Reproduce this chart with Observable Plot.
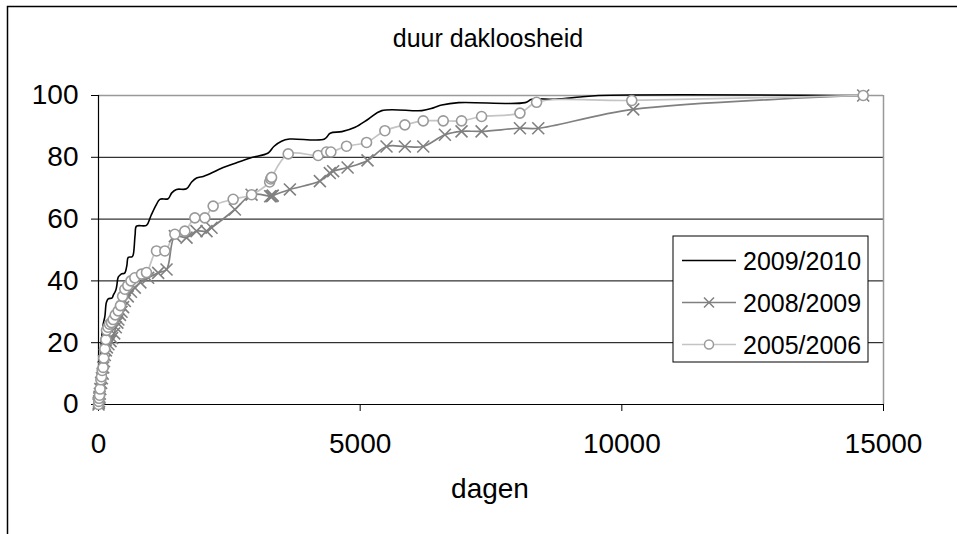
<!DOCTYPE html>
<html>
<head>
<meta charset="utf-8">
<script src="https://cdn.jsdelivr.net/npm/d3@7"></script>
<script src="https://cdn.jsdelivr.net/npm/@observablehq/plot@0.6"></script>
<style>
  html, body { margin: 0; padding: 0; background: white; }
  #chart { width: 957px; height: 534px; overflow: hidden; }
</style>
</head>
<body>
<div id="chart"></div>
<script>
// ---- data ----
const chartTitle = "duur dakloosheid";
const xLabel = "dagen";
const seriesNames = ["2009/2010", "2008/2009", "2005/2006"];
const xTicks = [0, 5000, 10000, 15000];
const xTickLabels = ["0", "5000", "10000", "15000"];
const yTicks = [0, 20, 40, 60, 80, 100];
const yGrid = [20, 40, 60, 80];

const days2009 = [0, 10, 25, 40, 57, 75, 90, 122, 150, 185, 260, 281, 330, 350, 377, 420, 446, 500, 542, 568, 640, 664, 700, 726, 917, 1000, 1100, 1172, 1330, 1400, 1490, 1681, 1780, 1873, 2000, 2096, 2287, 2600, 2900, 3242, 3350, 3497, 3650, 4319, 4427, 4650, 4904, 5159, 5413, 6178, 6400, 6560, 6879, 8153, 8280, 8726, 9200, 9554, 14612];
const pct2009  = [0, 3, 10, 17, 21, 24, 26, 28.5, 33, 34.2, 34.5, 35.3, 37, 38.5, 41.2, 42, 42.3, 42.5, 45, 47.6, 47.8, 48.5, 55, 57.7, 58, 61, 64.5, 66.4, 66.6, 68.5, 69.6, 69.8, 72, 73.3, 73.8, 74.4, 76, 78, 79.8, 81.4, 83.5, 85.2, 85.9, 85.9, 87.8, 88.3, 89.7, 92.4, 95.1, 95.1, 96, 96.9, 97.7, 97.7, 98.8, 98.8, 99.5, 100, 100];

const days2008 = [0, 5, 10, 15, 20, 25, 35, 50, 65, 80, 90, 105, 120, 140, 160, 190, 230, 260, 300, 330, 360, 380, 410, 440, 470, 503, 560, 620, 694, 800, 949, 1140, 1300, 1459, 1682, 1873, 2064, 2160, 2606, 2925, 3280, 3307, 3330, 3657, 4230, 4420, 4484, 4760, 5140, 5504, 5854, 6205, 6619, 6937, 7320, 8053, 8403, 10218, 14612];
const pct2008  = [0, 0.5, 1, 2, 2.5, 3.5, 5, 7, 8.5, 10, 12, 14, 16, 17.5, 18.5, 19.5, 20.5, 21.5, 23, 25, 26.5, 27.5, 29, 30, 31.5, 33.5, 35, 36.5, 37.8, 39.5, 41, 42.6, 43.7, 54.5, 54, 56.1, 56.1, 57.2, 63.1, 67.9, 67.4, 67.4, 67.6, 69.6, 72.3, 74.9, 75.5, 76.7, 79, 83.5, 83.5, 83.5, 87.3, 88.4, 88.4, 89.4, 89.4, 95.5, 100];

const days2005 = [0, 5, 10, 20, 30, 45, 57, 70, 89, 100, 120, 140, 153, 180, 210, 248, 280, 320, 376, 420, 460, 503, 560, 620, 694, 822, 917, 1108, 1268, 1459, 1650, 1841, 2032, 2191, 2573, 2925, 3270, 3290, 3307, 3625, 4198, 4357, 4440, 4739, 5122, 5472, 5854, 6205, 6587, 6937, 7320, 8053, 8371, 10190, 14612];
const pct2005  = [0, 1, 2, 3, 5, 8, 9, 11, 12, 15, 18, 21, 24, 25, 26, 26.5, 27.5, 29, 30.3, 32, 35, 37.3, 38.5, 40, 41, 42.2, 42.7, 49.7, 49.7, 55.1, 56.1, 60.4, 60.4, 64.2, 66.4, 67.9, 72, 73, 73.5, 81.1, 80.6, 81.7, 81.7, 83.6, 84.8, 88.6, 90.5, 91.8, 91.8, 91.8, 93.2, 94.3, 97.8, 98.4, 100];

// ---- styles ----
const FONT = "'Liberation Sans', Arial, Helvetica, sans-serif";
const styles = [
  {line: "#000000", lineWidth: 1.6, marker: null, markerStroke: null},
  {line: "#808080", lineWidth: 1.7, marker: "times", markerStroke: "#808080"},
  {line: "#c4c4c4", lineWidth: 1.7, marker: "circle", markerStroke: "#9a9a9a"}
];

const toRows = (days, pct) => days.map((d, i) => ({day: d, pct: pct[i]}));
const seriesRows = [toRows(days2009, pct2009), toRows(days2008, pct2008), toRows(days2005, pct2005)];

const marks = [
  Plot.gridY(yGrid, {stroke: "black", strokeOpacity: 1, strokeWidth: 1}),
  Plot.ruleY([100], {stroke: "#999999", strokeWidth: 1.5}),
  Plot.ruleX([15000], {stroke: "#999999", strokeWidth: 1.5}),
  Plot.axisX({ticks: xTicks, tickSize: 7, tickPadding: 22, fontSize: 28, label: null,
    tickFormat: d => xTickLabels[xTicks.indexOf(d)]}),
  Plot.axisY({ticks: yTicks, tickSize: 7, tickPadding: 13, fontSize: 28, label: null,
    tickFormat: d => String(d)}),
  Plot.ruleX([0], {stroke: "black", strokeWidth: 1.2}),
  Plot.ruleY([0], {stroke: "black", strokeWidth: 1.2})
];
seriesRows.forEach((rows, i) => {
  const s = styles[i];
  marks.push(Plot.line(rows, {x: "day", y: "pct", stroke: s.line, strokeWidth: s.lineWidth, curve: "catmull-rom"}));
});
seriesRows.forEach((rows, i) => {
  const s = styles[i];
  if (s.marker === "times") {
    marks.push(Plot.dot(rows, {x: "day", y: "pct", symbol: "times", r: 5.5, stroke: s.markerStroke, strokeWidth: 1.6}));
  } else if (s.marker === "circle") {
    marks.push(Plot.dot(rows, {x: "day", y: "pct", symbol: "circle", r: 5, fill: "white", stroke: s.markerStroke, strokeWidth: 1.6}));
  }
});

const plot = Plot.plot({
  width: 957,
  height: 534,
  marginLeft: 98,
  marginRight: 74,
  marginTop: 95,
  marginBottom: 130,
  style: {fontFamily: FONT, fontSize: "28px", background: "white", color: "black", overflow: "visible"},
  x: {domain: [0, 15000]},
  y: {domain: [0, 100]},
  marks
});
document.getElementById("chart").appendChild(plot);

// ---- decorations: frame, title, axis label, legend ----
const svg = d3.select(plot);
svg.append("path").attr("d", "M7.5,534V6.5H957").attr("fill", "none").attr("stroke", "black").attr("stroke-width", 1.5);
svg.append("text").attr("x", 488).attr("y", 47).attr("text-anchor", "middle")
  .attr("font-family", FONT).attr("font-size", 25).attr("fill", "black").text(chartTitle);
svg.append("text").attr("x", 490).attr("y", 498).attr("text-anchor", "middle")
  .attr("font-family", FONT).attr("font-size", 28).attr("fill", "black").text(xLabel);

const lg = svg.append("g");
lg.append("rect").attr("x", 673).attr("y", 236).attr("width", 195).attr("height", 126)
  .attr("fill", "white").attr("stroke", "black").attr("stroke-width", 1);
const rowY = [260.5, 302.5, 344.5];
seriesNames.forEach((name, i) => {
  const s = styles[i];
  const y = rowY[i];
  lg.append("line").attr("x1", 682).attr("x2", 736).attr("y1", y).attr("y2", y)
    .attr("stroke", s.line).attr("stroke-width", s.lineWidth);
  if (s.marker === "times") {
    lg.append("path").attr("d", `M${709-5},${y-5}L${709+5},${y+5}M${709-5},${y+5}L${709+5},${y-5}`)
      .attr("stroke", s.markerStroke).attr("stroke-width", 1.5);
  } else if (s.marker === "circle") {
    lg.append("circle").attr("cx", 709).attr("cy", y).attr("r", 4.5)
      .attr("fill", "white").attr("stroke", s.markerStroke).attr("stroke-width", 1.5);
  }
  lg.append("text").attr("x", 743).attr("y", y).attr("dy", "0.36em").attr("text-anchor", "start")
    .attr("font-family", FONT).attr("font-size", 25).attr("fill", "black").text(name);
});
</script>
</body>
</html>
